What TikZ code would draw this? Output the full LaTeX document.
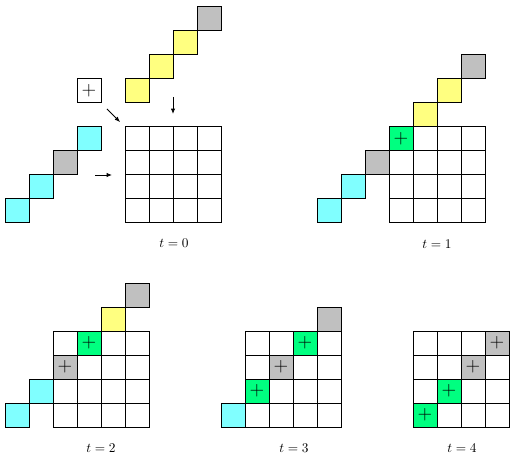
\documentclass[tikz,border=0pt]{standalone}
\usetikzlibrary{arrows.meta}
\definecolor{cy}{HTML}{80FFFF}
\definecolor{ye}{HTML}{FFFF80}
\definecolor{gr}{HTML}{C0C0C0}
\definecolor{gn}{HTML}{00FF80}
\tikzset{
  cell/.style={draw, line width=0.75pt, minimum size=18pt, inner sep=0pt, outer sep=0pt, fill=white},
  pluscell/.style={cell, font=\fontsize{15}{15}\selectfont},
  flow/.style={line width=0.6pt, -{Latex[length=4pt,width=3.2pt]}},
  lbl/.style={font=\fontsize{10}{12}\selectfont, inner sep=0pt}
}
% \mycell{name}{originx}{originy}{col}{row}{fill}{text}
\newcommand{\mycell}[7]{\node[cell, fill=#6, font=\fontsize{15}{15}\selectfont] (#1) at ({#2+24*(#4)+12},{#3+24*(#5)+12}) {#7};}
\newcommand{\mygrid}[3]{%
  \foreach \i in {0,...,3}{\foreach \j in {0,...,3}{%
    \node[cell] (#1-\i-\j) at ({#2+24*\i+12},{#3+24*\j+12}) {};}}}
\begin{document}
\begin{tikzpicture}[x=0.75pt,y=-0.75pt]
\useasboundingbox (0,0) rectangle (513,459);
% ---- t = 0
\mygrid{ga}{125}{127}
\mycell{a-y1}{125}{127}{0}{-2}{ye}{}
\mycell{a-y2}{125}{127}{1}{-3}{ye}{}
\mycell{a-y3}{125}{127}{2}{-4}{ye}{}
\mycell{a-y4}{125}{127}{3}{-5}{gr}{}
\mycell{a-c1}{125}{127}{-5}{3}{cy}{}
\mycell{a-c2}{125}{127}{-4}{2}{cy}{}
\mycell{a-c3}{125}{127}{-3}{1}{gr}{}
\mycell{a-c4}{125}{127}{-2}{0}{cy}{}
\mycell{a-p}{125}{127}{-2}{-2}{white}{$+$}
\coordinate (d1) at (173,97); \coordinate (d2) at (173,114);
\coordinate (r1) at (95,175); \coordinate (r2) at (112,175);
\coordinate (q1) at (107,109); \coordinate (q2) at (120,122);
\draw[flow] (d1) -- (d2);
\draw[flow] (r1) -- (r2);
\draw[flow] (q1) -- (q2);
\node[lbl] (la) at (174,243) {$t=0$};
% ---- t = 1
\mygrid{gb}{389}{127}
\mycell{b-g}{389}{127}{0}{0}{gn}{$+$}
\mycell{b-c1}{389}{127}{-1}{1}{gr}{}
\mycell{b-c2}{389}{127}{-2}{2}{cy}{}
\mycell{b-c3}{389}{127}{-3}{3}{cy}{}
\mycell{b-y1}{389}{127}{1}{-1}{ye}{}
\mycell{b-y2}{389}{127}{2}{-2}{ye}{}
\mycell{b-y3}{389}{127}{3}{-3}{gr}{}
\node[lbl] (lb) at (437,244) {$t=1$};
% ---- t = 2
\mygrid{gc}{53}{331}
\mycell{c-g}{53}{331}{1}{0}{gn}{$+$}
\mycell{c-s}{53}{331}{0}{1}{gr}{$+$}
\mycell{c-c1}{53}{331}{-1}{2}{cy}{}
\mycell{c-c2}{53}{331}{-2}{3}{cy}{}
\mycell{c-y1}{53}{331}{2}{-1}{ye}{}
\mycell{c-y2}{53}{331}{3}{-2}{gr}{}
\node[lbl] (lc) at (101,448) {$t=2$};
% ---- t = 3
\mygrid{gd}{245}{331}
\mycell{d-g1}{245}{331}{2}{0}{gn}{$+$}
\mycell{d-s}{245}{331}{1}{1}{gr}{$+$}
\mycell{d-g2}{245}{331}{0}{2}{gn}{$+$}
\mycell{d-c}{245}{331}{-1}{3}{cy}{}
\mycell{d-y}{245}{331}{3}{-1}{gr}{}
\node[lbl] (ld) at (294,448) {$t=3$};
% ---- t = 4
\mygrid{ge}{413}{331}
\mycell{e-s1}{413}{331}{3}{0}{gr}{$+$}
\mycell{e-s2}{413}{331}{2}{1}{gr}{$+$}
\mycell{e-g1}{413}{331}{1}{2}{gn}{$+$}
\mycell{e-g2}{413}{331}{0}{3}{gn}{$+$}
\node[lbl] (le) at (462,448) {$t=4$};
\end{tikzpicture}
\end{document}
